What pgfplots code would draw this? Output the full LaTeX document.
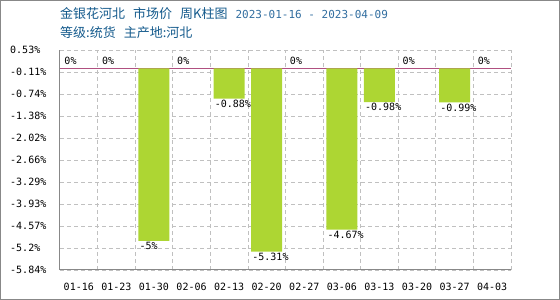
\documentclass[border=0pt]{standalone}
\usepackage{pgfplots}
\pgfplotsset{compat=1.18}
\usepackage{fontspec}
\setmainfont{DejaVu Sans Mono}
\newfontfamily\cjk{Noto Sans CJK SC}
\definecolor{barc}{RGB}{173,214,51}
\definecolor{pinkc}{RGB}{176,80,128}
\definecolor{titc}{RGB}{20,90,140}
\definecolor{datec}{RGB}{50,110,160}
\definecolor{gridc}{RGB}{192,192,192}
\definecolor{axc}{RGB}{136,136,136}
\begin{document}
\begin{tikzpicture}[x=1pt,y=1pt]
\draw[axc, line width=1pt] (0.5,0.5) rectangle (559.5,299.5);
\node[anchor=base west, inner sep=0pt, text=titc, font=\cjk\fontsize{13}{13}\selectfont] at (60,281)
  {金银花河北\hspace{8pt}市场价\hspace{8pt}周K柱图\hspace{8pt}{\rmfamily\fontsize{11}{11}\selectfont\color{datec}2023-01-16 - 2023-04-09}};
\node[anchor=base west, inner sep=0pt, text=titc, font=\cjk\fontsize{13}{13}\selectfont] at (60,262)
  {等级:统货\hspace{8pt}主产地:河北};
\begin{axis}[
  at={(60pt,30pt)}, anchor=south west,
  scale only axis, width=451pt, height=220pt,
  xmin=0, xmax=12, ymin=-5.84, ymax=0.53,
  axis lines*=left,
  axis line style={axc, line width=1pt},
  xtick={0.5,1.5,...,11.5},
  xticklabels={01-16,01-23,01-30,02-06,02-13,02-20,02-27,03-06,03-13,03-20,03-27,04-03},
  minor xtick={1,2,...,12},
  ytick={0.53,-0.107,-0.744,-1.381,-2.018,-2.655,-3.292,-3.929,-4.566,-5.203,-5.84},
  yticklabels={0.53\%,-0.11\%,-0.74\%,-1.38\%,-2.02\%,-2.66\%,-3.29\%,-3.93\%,-4.57\%,-5.2\%,-5.84\%},
  major tick length=0pt, minor tick length=0pt,
  xmajorgrids=false, xminorgrids=true, ymajorgrids=true,
  grid style={gridc, dash pattern=on 4pt off 3pt, line width=0.8pt},
  minor grid style={gridc, dash pattern=on 4pt off 3pt, line width=0.8pt},
  tick label style={font=\fontsize{10}{12}\selectfont, text=black},
  xticklabel style={yshift=-10pt},
  yticklabel style={anchor=west, inner sep=0pt, xshift=-50pt},
  clip=false,
  axis on top=false,
]
\addplot[pinkc, line width=1pt, forget plot] coordinates {(0,0) (12,0)};
\addplot[ybar, bar width=31pt, bar shift=0pt, fill=barc, draw=none,
  point meta=explicit symbolic,
  nodes near coords={\pgfplotspointmeta\%},
  every node near coord/.append style={anchor=north west, xshift=-15.5pt, inner sep=1pt, font=\fontsize{10}{12}\selectfont}]
  coordinates {(2.5,-5) [-5] (4.5,-0.88) [-0.88] (5.5,-5.31) [-5.31] (7.5,-4.67) [-4.67] (8.5,-0.98) [-0.98] (10.5,-0.99) [-0.99]};
\addplot[ybar, bar width=31pt, bar shift=0pt, fill=none, draw=none,
  point meta=explicit symbolic,
  nodes near coords={\pgfplotspointmeta\%},
  every node near coord/.append style={anchor=south west, xshift=-15.5pt, yshift=2pt, inner sep=1pt, font=\fontsize{10}{12}\selectfont}]
  coordinates {(0.5,0) [0] (1.5,0) [0] (3.5,0) [0] (6.5,0) [0] (9.5,0) [0] (11.5,0) [0]};
\end{axis}
\end{tikzpicture}
\end{document}
